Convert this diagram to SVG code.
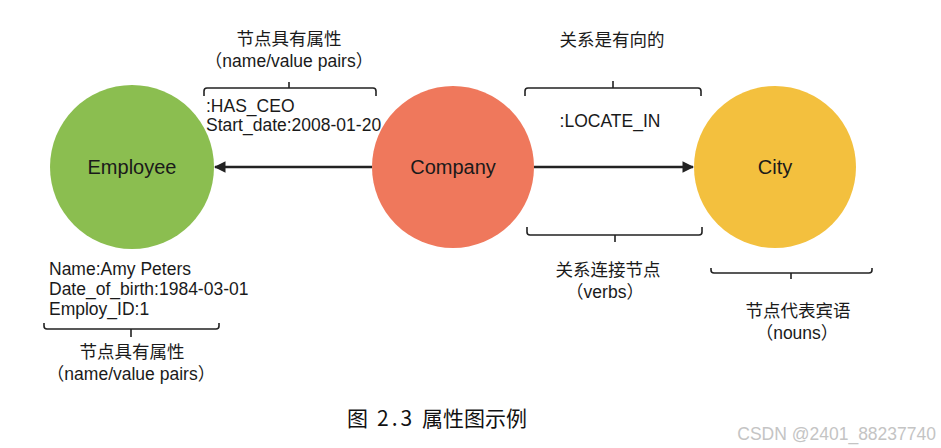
<svg xmlns="http://www.w3.org/2000/svg" width="941" height="448" viewBox="0 0 941 448">
<defs>
<style>
.t{font-family:"Liberation Sans","Noto Sans CJK SC",sans-serif;font-size:17.5px;fill:#1a1a1a}
.c{text-anchor:middle}
.n{font-family:"Liberation Sans",sans-serif;font-size:20px;fill:#1a1a1a;text-anchor:middle}
.br{fill:none;stroke:#222;stroke-width:1.6}
.ed{stroke:#222;stroke-width:2.6;fill:none}
</style>
<marker id="ah" viewBox="0 0 10 10" refX="9" refY="5" markerWidth="4.5" markerHeight="4.5" orient="auto">
<path d="M0,0 L10,5 L0,10 z" fill="#222"/>
</marker>
</defs>
<rect width="941" height="448" fill="#fff"/>
<g id="employee">
<circle cx="132" cy="167" r="82" fill="#8BBE50"/>
<text class="n" x="132" y="174">Employee</text>
</g>
<g id="company">
<circle cx="453" cy="167" r="81" fill="#EF785C"/>
<text class="n" x="453" y="174">Company</text>
</g>
<g id="city">
<circle cx="775" cy="167" r="81" fill="#F3C03E"/>
<text class="n" x="775" y="174">City</text>
</g>
<g id="connectors">
<line class="ed" x1="372" y1="167" x2="215" y2="167" marker-end="url(#ah)"/>
<line class="ed" x1="534" y1="167" x2="693" y2="167" marker-end="url(#ah)"/>
</g>
<g id="braces">
<path class="br" d="M204,96 L204,91 Q204,88 207,88 L373,88 Q376,88 376,91 L376,96 M289,88 L289,82"/>
<path class="br" d="M525,96 L525,91 Q525,88 528,88 L698,88 Q701,88 701,91 L701,96 M613,88 L613,81"/>
<path class="br" d="M44,323 L44,326 Q44,329 47,329 L216,329 Q219,329 219,326 L219,323 M131,329 L131,337"/>
<path class="br" d="M527,227 L527,232 Q527,235 530,235 L699,235 Q702,235 702,232 L702,227 M615,235 L615,242"/>
<path class="br" d="M711,268 L711,270 Q711,273 714,273 L869,273 Q872,273 872,270 L872,268 M791,273 L791,279"/>
</g>
<g id="labels">
<text class="t c" x="289" y="45">节点具有属性</text>
<text class="t c" x="289" y="67">（name/value pairs）</text>
<text class="t" x="206" y="112">:HAS_CEO</text>
<text class="t" x="206" y="131">Start_date:2008-01-20</text>
<text class="t c" x="612" y="46">关系是有向的</text>
<text class="t c" x="610" y="127">:LOCATE_IN</text>
<text class="t" x="49" y="275">Name:Amy Peters</text>
<text class="t" x="49" y="295">Date_of_birth:1984-03-01</text>
<text class="t" x="49" y="315">Employ_ID:1</text>
<text class="t c" x="132" y="358">节点具有属性</text>
<text class="t c" x="131" y="380">（name/value pairs）</text>
<text class="t c" x="608" y="276">关系连接节点</text>
<text class="t c" x="605" y="298">（verbs）</text>
<text class="t c" x="798" y="317">节点代表宾语</text>
<text class="t c" x="797" y="339">（nouns）</text>
</g>
<g id="caption">
<text y="426" style="font-family:'Noto Sans CJK SC',sans-serif;font-size:21px;fill:#111"><tspan x="347">图</tspan><tspan x="377" letter-spacing="3">2.3</tspan><tspan x="422">属性图示例</tspan></text>
<text x="936" y="440" text-anchor="end" style="font-family:'Liberation Sans',sans-serif;font-size:17.5px;fill:#c4c4c4">CSDN @2401_88237740</text>
</g>
</svg>
